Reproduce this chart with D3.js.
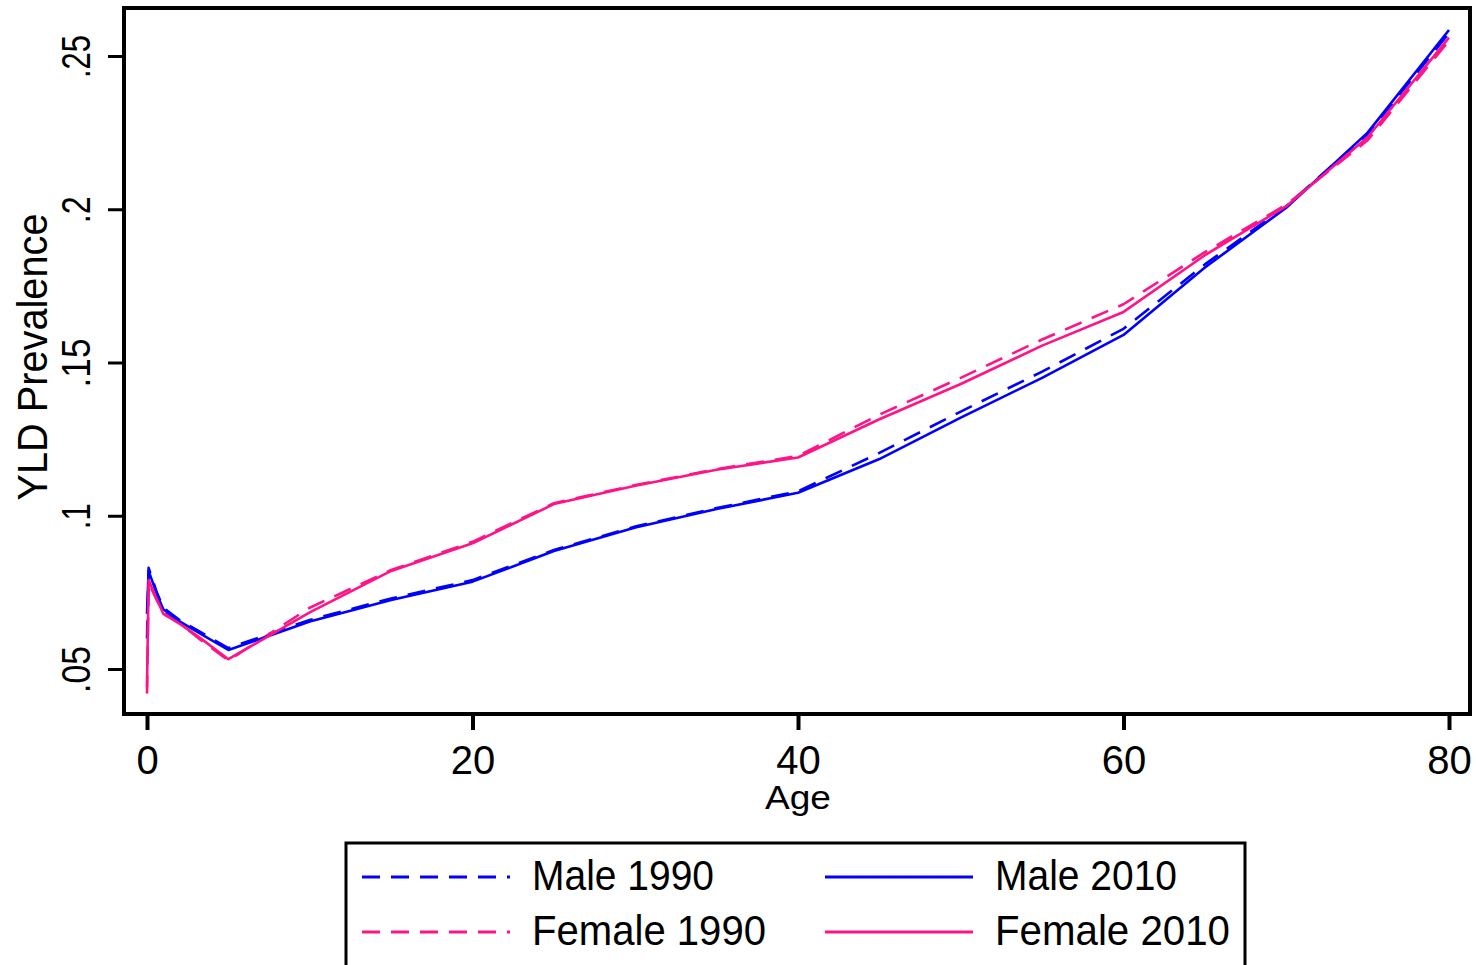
<!DOCTYPE html>
<html>
<head>
<meta charset="utf-8">
<script src="https://cdn.jsdelivr.net/npm/d3@7"></script>
<style>
  html, body { margin: 0; padding: 0; background: #ffffff; }
  svg { display: block; }
  text { font-family: "Liberation Sans", Arial, sans-serif; fill: #000; }
</style>
</head>
<body>
<svg id="chart" width="1476" height="965"></svg>
<script>
// ---- data ----
const ages = [0, 0.1, 0.6, 1, 2, 3.3, 5, 10, 15, 20, 25, 30, 35, 40, 45, 50, 55, 60, 65, 70, 75, 80];
const male1990 = [0.060, 0.083, 0.075, 0.070, 0.066, 0.062, 0.0568, 0.0660, 0.0730, 0.0790, 0.0888, 0.0965, 0.1025, 0.1080, 0.1205, 0.1340, 0.1470, 0.1610, 0.1820, 0.2010, 0.2245, 0.2575];
const male2010 = [0.068, 0.082, 0.0745, 0.0695, 0.0655, 0.0615, 0.0562, 0.0655, 0.0725, 0.0785, 0.0885, 0.0962, 0.1022, 0.1075, 0.1185, 0.1320, 0.1450, 0.1590, 0.1810, 0.2005, 0.2250, 0.2585];
const female1990 = [0.042, 0.078, 0.0725, 0.0685, 0.0650, 0.0595, 0.0528, 0.0700, 0.0823, 0.0915, 0.1041, 0.1100, 0.1152, 0.1195, 0.1330, 0.1450, 0.1575, 0.1690, 0.1860, 0.2015, 0.2225, 0.2550];
const female2010 = [0.044, 0.079, 0.0728, 0.0680, 0.0648, 0.0600, 0.0532, 0.0685, 0.0820, 0.0910, 0.1038, 0.1098, 0.1150, 0.1190, 0.1315, 0.1430, 0.1555, 0.1665, 0.1850, 0.2010, 0.2235, 0.2560];

const xTicks = [0, 20, 40, 60, 80];
const yTicks = [0.05, 0.10, 0.15, 0.20, 0.25];
const yTickLabels = [".05", ".1", ".15", ".2", ".25"];
const seriesNames = ["Male 1990", "Female 1990", "Male 2010", "Female 2010"];

const BLUE = "#0000ff", PINK = "#ff1488";
const series = [
  { name: seriesNames[0], values: male1990, color: BLUE, dash: "18,11" },
  { name: seriesNames[1], values: female1990, color: PINK, dash: "18,11" },
  { name: seriesNames[2], values: male2010, color: BLUE, dash: null },
  { name: seriesNames[3], values: female2010, color: PINK, dash: null }
];

// ---- layout ----
const svg = d3.select("#chart");
const frame = { left: 124, top: 8, right: 1470, bottom: 714 };

const x = d3.scaleLinear().domain([0, 80]).range([147, 1449]);
const y = d3.scaleLinear().domain([0.05, 0.25]).range([669, 56]);

// frame
svg.append("rect")
  .attr("x", frame.left).attr("y", frame.top)
  .attr("width", frame.right - frame.left).attr("height", frame.bottom - frame.top)
  .attr("fill", "none").attr("stroke", "#000").attr("stroke-width", 4);

// x axis
const xAxis = d3.axisBottom(x).tickValues(xTicks).tickSize(14).tickPadding(2).tickFormat(d3.format("d"));
const gx = svg.append("g").attr("transform", `translate(0,${frame.bottom + 2})`).call(xAxis);
gx.select(".domain").remove();
gx.selectAll(".tick line").attr("stroke", "#000").attr("stroke-width", 4);
gx.selectAll(".tick text").attr("font-size", 40).attr("dy", null).attr("y", 58)
  .attr("font-family", '"Liberation Sans", Arial, sans-serif');

// y axis
const yAxis = d3.axisLeft(y).tickValues(yTicks).tickSize(14).tickFormat((d, i) => yTickLabels[i]);
const gy = svg.append("g").attr("transform", `translate(${frame.left - 2},0)`).call(yAxis);
gy.select(".domain").remove();
gy.selectAll(".tick line").attr("stroke", "#000").attr("stroke-width", 3);
gy.selectAll(".tick text")
  .attr("font-size", 41)
  .attr("font-family", '"Liberation Sans", Arial, sans-serif')
  .attr("x", null).attr("dy", null)
  .attr("text-anchor", "middle")
  .attr("transform", "translate(-32,0) rotate(-90)")
  .attr("y", 0)
  .each(function(d, i) {
    const lens = [47, 26, 49, 27, 43];
    d3.select(this).attr("textLength", lens[i]).attr("lengthAdjust", "spacingAndGlyphs");
  });

// axis titles
svg.append("text")
  .attr("transform", "translate(47,357) rotate(-90)")
  .attr("text-anchor", "middle")
  .attr("font-size", 42)
  .attr("textLength", 287).attr("lengthAdjust", "spacingAndGlyphs")
  .text("YLD Prevalence");

svg.append("text")
  .attr("x", 798).attr("y", 809)
  .attr("text-anchor", "middle")
  .attr("font-size", 33)
  .attr("textLength", 66).attr("lengthAdjust", "spacingAndGlyphs")
  .text("Age");

// lines
const line = d3.line().x((d, i) => x(ages[i])).y(d => y(d));
const plot = svg.append("g");
series.forEach(s => {
  plot.append("path")
    .datum(s.values)
    .attr("d", line)
    .attr("fill", "none")
    .attr("stroke", s.color)
    .attr("stroke-width", 2.6)
    .attr("stroke-dasharray", s.dash)
    .attr("stroke-linejoin", "round");
});

// legend
svg.append("rect")
  .attr("x", 346).attr("y", 843)
  .attr("width", 899).attr("height", 200)
  .attr("fill", "none").attr("stroke", "#000").attr("stroke-width", 3);

const legendPos = [
  { lx: 362, tx: 532, ly: 877, ty: 890, tl: 182 },
  { lx: 362, tx: 532, ly: 932, ty: 945, tl: 234 },
  { lx: 825, tx: 995, ly: 877, ty: 890, tl: 182 },
  { lx: 825, tx: 995, ly: 932, ty: 945, tl: 235 }
];
series.forEach((s, i) => {
  const p = legendPos[i];
  svg.append("line")
    .attr("x1", p.lx).attr("x2", p.lx + 148)
    .attr("y1", p.ly).attr("y2", p.ly)
    .attr("stroke", s.color).attr("stroke-width", 3)
    .attr("stroke-dasharray", s.dash);
  svg.append("text")
    .attr("x", p.tx).attr("y", p.ty)
    .attr("font-size", 42)
    .attr("textLength", p.tl).attr("lengthAdjust", "spacingAndGlyphs")
    .text(s.name);
});
</script>
</body>
</html>
